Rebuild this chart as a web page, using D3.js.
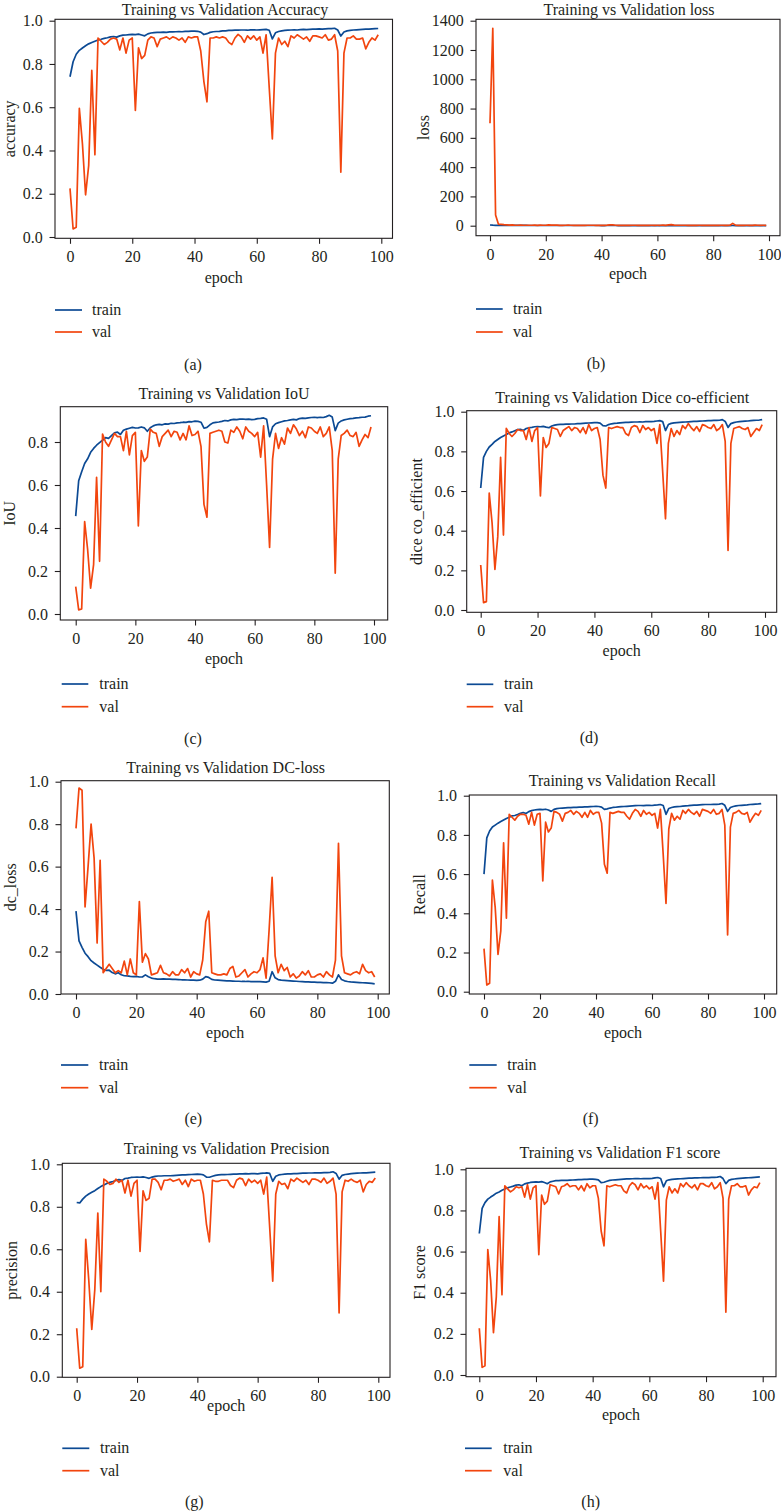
<!DOCTYPE html>
<html><head><meta charset="utf-8">
<script src="https://cdn.jsdelivr.net/npm/d3@7"></script>
<style>
body{margin:0;background:#fff}
svg{display:block}
text{font-family:"Liberation Serif","Times New Roman",serif;fill:#231f20}
</style>
</head><body>
<svg id="chart" width="781" height="1511"></svg>
<script>
// ---------------- data ----------------
const epochs = d3.range(100);
const xTicks = [0, 20, 40, 60, 80, 100];
const yTicksUnit = [0, 0.2, 0.4, 0.6, 0.8, 1.0];
const yTicksIoU = [0, 0.2, 0.4, 0.6, 0.8];
const yTicksLoss = [0, 200, 400, 600, 800, 1000, 1200, 1400];
const seriesNames = ["train", "val"];

const trainAccuracy = [0.741,0.810,0.845,0.863,0.874,0.884,0.893,0.899,0.905,0.911,
0.914,0.918,0.921,0.925,0.927,0.924,0.930,0.933,0.934,0.936,
0.937,0.936,0.938,0.934,0.930,0.939,0.943,0.945,0.946,0.946,
0.947,0.946,0.948,0.948,0.949,0.950,0.949,0.951,0.951,0.952,
0.952,0.951,0.947,0.936,0.940,0.946,0.949,0.950,0.951,0.953,
0.953,0.955,0.955,0.956,0.956,0.957,0.957,0.956,0.958,0.958,
0.957,0.958,0.959,0.960,0.956,0.916,0.944,0.950,0.953,0.955,
0.956,0.957,0.958,0.957,0.959,0.960,0.959,0.960,0.961,0.961,
0.962,0.961,0.962,0.963,0.963,0.965,0.957,0.929,0.948,0.953,
0.955,0.957,0.958,0.959,0.960,0.961,0.961,0.962,0.963,0.964];
const valAccuracy = [0.225,0.037,0.045,0.595,0.430,0.195,0.330,0.770,0.380,0.920,
0.905,0.890,0.900,0.915,0.920,0.915,0.865,0.920,0.850,0.910,
0.920,0.585,0.875,0.825,0.840,0.910,0.925,0.920,0.880,0.915,
0.920,0.925,0.915,0.925,0.920,0.910,0.920,0.900,0.925,0.920,
0.925,0.925,0.860,0.720,0.625,0.920,0.920,0.925,0.920,0.925,
0.920,0.900,0.890,0.920,0.937,0.925,0.900,0.930,0.915,0.930,
0.910,0.925,0.850,0.935,0.690,0.453,0.850,0.920,0.890,0.905,
0.880,0.930,0.920,0.935,0.925,0.915,0.925,0.905,0.930,0.930,
0.925,0.920,0.935,0.910,0.915,0.935,0.860,0.300,0.850,0.920,
0.920,0.930,0.915,0.915,0.920,0.870,0.900,0.920,0.910,0.935];

const trainLoss = [4.6,3.3,2.8,2.5,2.3,2.1,2.0,1.9,1.8,1.7,
1.65,1.62,1.58,1.55,1.52,1.50,1.48,1.46,1.44,1.42,
1.41,1.40,1.38,1.40,1.42,1.36,1.34,1.32,1.31,1.30,
1.29,1.28,1.27,1.26,1.25,1.24,1.23,1.22,1.21,1.20,
1.19,1.18,1.20,1.30,1.28,1.20,1.16,1.15,1.14,1.13,
1.12,1.11,1.10,1.10,1.09,1.08,1.08,1.07,1.06,1.06,
1.05,1.05,1.04,1.03,1.06,1.35,1.15,1.08,1.05,1.03,
1.02,1.01,1.00,1.00,0.99,0.98,0.98,0.97,0.97,0.96,
0.96,0.95,0.95,0.94,0.94,0.93,0.97,1.20,1.05,0.98,
0.96,0.95,0.94,0.93,0.93,0.92,0.92,0.91,0.91,0.90];
const valLoss = [699,1348,73,11,9,7,6,4,5,3,
3.2,3.5,3.1,2.9,3.0,2.9,3.6,2.8,3.7,3.0,
2.9,5.2,3.4,3.8,3.6,2.8,2.8,2.9,3.3,2.9,
2.8,2.7,3.0,2.8,2.8,3.1,2.9,3.2,2.6,3.0,
2.8,2.8,3.5,5.0,5.8,2.9,2.8,2.8,2.8,2.8,
2.8,3.1,3.2,2.7,2.6,2.8,3.1,2.6,2.9,2.8,
2.9,2.9,3.6,2.6,5.5,7.2,3.8,2.9,3.2,3.0,
3.2,2.6,2.8,2.6,2.7,2.9,2.8,3.0,2.6,2.6,
2.7,2.8,2.6,2.9,2.8,2.6,3.6,16,3.8,2.8,
2.8,2.7,2.9,2.9,2.8,3.3,3.0,2.8,2.9,2.6];

const trainIoU = [0.455,0.620,0.662,0.700,0.722,0.752,0.770,0.785,0.797,0.808,
0.820,0.817,0.830,0.843,0.846,0.835,0.855,0.860,0.864,0.868,
0.865,0.866,0.870,0.866,0.850,0.866,0.875,0.880,0.882,0.880,
0.884,0.883,0.887,0.886,0.889,0.890,0.892,0.891,0.895,0.894,
0.897,0.896,0.892,0.864,0.868,0.880,0.889,0.891,0.893,0.896,
0.900,0.898,0.903,0.905,0.904,0.906,0.907,0.905,0.906,0.904,
0.905,0.909,0.910,0.912,0.906,0.825,0.870,0.885,0.890,0.894,
0.898,0.900,0.903,0.905,0.903,0.909,0.911,0.910,0.912,0.914,
0.915,0.913,0.915,0.914,0.918,0.924,0.916,0.853,0.888,0.898,
0.903,0.906,0.909,0.910,0.912,0.913,0.915,0.916,0.920,0.922];
const valIoU = [0.127,0.019,0.023,0.430,0.300,0.120,0.230,0.636,0.245,0.837,
0.800,0.780,0.810,0.840,0.825,0.825,0.760,0.850,0.740,0.830,
0.845,0.410,0.760,0.710,0.730,0.860,0.845,0.840,0.780,0.825,
0.840,0.855,0.825,0.850,0.845,0.810,0.840,0.810,0.875,0.830,
0.835,0.850,0.780,0.510,0.450,0.840,0.845,0.850,0.855,0.850,
0.800,0.795,0.855,0.845,0.870,0.850,0.815,0.870,0.850,0.840,
0.825,0.845,0.730,0.875,0.600,0.310,0.720,0.840,0.770,0.820,
0.790,0.865,0.840,0.880,0.860,0.830,0.850,0.820,0.870,0.865,
0.850,0.840,0.870,0.825,0.840,0.870,0.760,0.190,0.720,0.830,
0.840,0.855,0.830,0.825,0.845,0.780,0.810,0.835,0.820,0.870];

const trainDice = [0.615,0.770,0.800,0.822,0.835,0.850,0.860,0.870,0.878,0.885,
0.893,0.898,0.904,0.910,0.911,0.905,0.915,0.919,0.921,0.924,
0.925,0.924,0.926,0.922,0.919,0.928,0.932,0.935,0.936,0.936,
0.937,0.937,0.938,0.938,0.940,0.940,0.941,0.942,0.943,0.944,
0.945,0.945,0.942,0.930,0.928,0.935,0.939,0.941,0.942,0.944,
0.945,0.946,0.946,0.947,0.948,0.948,0.949,0.948,0.950,0.950,
0.950,0.951,0.953,0.955,0.950,0.905,0.935,0.941,0.944,0.945,
0.946,0.947,0.948,0.949,0.950,0.951,0.951,0.952,0.953,0.954,
0.955,0.955,0.956,0.956,0.957,0.960,0.951,0.921,0.940,0.945,
0.948,0.950,0.951,0.952,0.953,0.955,0.956,0.957,0.958,0.960];
const valDice = [0.227,0.037,0.042,0.590,0.440,0.205,0.370,0.770,0.378,0.916,
0.890,0.875,0.890,0.910,0.905,0.905,0.860,0.920,0.850,0.905,
0.920,0.575,0.870,0.820,0.840,0.920,0.915,0.910,0.875,0.905,
0.915,0.925,0.905,0.920,0.915,0.895,0.920,0.890,0.935,0.905,
0.915,0.920,0.860,0.680,0.615,0.920,0.915,0.920,0.925,0.920,
0.920,0.890,0.880,0.920,0.930,0.925,0.895,0.930,0.910,0.920,
0.905,0.915,0.840,0.935,0.700,0.460,0.840,0.915,0.875,0.905,
0.885,0.930,0.915,0.940,0.920,0.905,0.925,0.900,0.935,0.930,
0.920,0.915,0.935,0.905,0.915,0.935,0.850,0.300,0.840,0.915,
0.920,0.925,0.915,0.910,0.920,0.875,0.895,0.915,0.905,0.935];

const trainDCLoss = [0.390,0.250,0.220,0.192,0.176,0.157,0.146,0.136,0.126,0.117,
0.111,0.112,0.101,0.095,0.100,0.091,0.086,0.085,0.083,0.082,
0.083,0.080,0.080,0.090,0.081,0.075,0.072,0.070,0.070,0.071,
0.070,0.070,0.069,0.069,0.068,0.067,0.067,0.066,0.065,0.065,
0.064,0.065,0.070,0.082,0.078,0.069,0.066,0.065,0.064,0.063,
0.062,0.062,0.061,0.060,0.060,0.059,0.059,0.060,0.058,0.058,
0.059,0.058,0.057,0.056,0.060,0.105,0.076,0.068,0.065,0.064,
0.063,0.062,0.061,0.060,0.059,0.058,0.057,0.057,0.056,0.056,
0.055,0.055,0.054,0.054,0.053,0.051,0.060,0.090,0.068,0.062,
0.059,0.057,0.056,0.055,0.054,0.053,0.052,0.051,0.050,0.048];
const valDCLoss = [0.780,0.970,0.960,0.410,0.600,0.800,0.640,0.240,0.630,0.100,
0.120,0.140,0.120,0.100,0.110,0.100,0.155,0.090,0.165,0.100,
0.090,0.435,0.150,0.190,0.165,0.090,0.095,0.100,0.135,0.100,
0.095,0.085,0.105,0.090,0.090,0.115,0.100,0.120,0.080,0.105,
0.095,0.090,0.160,0.340,0.390,0.100,0.095,0.090,0.090,0.095,
0.090,0.120,0.130,0.080,0.085,0.100,0.115,0.080,0.095,0.105,
0.100,0.115,0.170,0.075,0.300,0.550,0.180,0.100,0.140,0.110,
0.125,0.080,0.095,0.075,0.085,0.105,0.090,0.110,0.080,0.080,
0.090,0.095,0.080,0.105,0.090,0.080,0.160,0.710,0.180,0.100,
0.095,0.090,0.100,0.105,0.095,0.140,0.110,0.100,0.105,0.080];

const trainRecall = [0.600,0.785,0.820,0.840,0.850,0.860,0.868,0.876,0.884,0.890,
0.897,0.899,0.904,0.910,0.914,0.909,0.919,0.924,0.927,0.929,
0.930,0.929,0.931,0.927,0.920,0.930,0.934,0.936,0.937,0.938,
0.939,0.939,0.940,0.940,0.942,0.942,0.943,0.943,0.944,0.945,
0.946,0.945,0.942,0.930,0.933,0.937,0.940,0.941,0.943,0.944,
0.945,0.946,0.947,0.948,0.949,0.950,0.950,0.949,0.951,0.951,
0.950,0.952,0.953,0.955,0.950,0.905,0.935,0.940,0.943,0.944,
0.945,0.947,0.948,0.949,0.951,0.952,0.952,0.953,0.954,0.955,
0.955,0.955,0.956,0.956,0.957,0.960,0.951,0.920,0.940,0.945,
0.948,0.950,0.951,0.952,0.953,0.955,0.956,0.957,0.958,0.960];
const valRecall = [0.220,0.034,0.043,0.570,0.430,0.190,0.310,0.760,0.375,0.905,
0.890,0.875,0.895,0.905,0.905,0.900,0.855,0.915,0.850,0.905,
0.910,0.565,0.865,0.815,0.835,0.920,0.915,0.905,0.870,0.910,
0.915,0.925,0.905,0.920,0.910,0.890,0.915,0.890,0.925,0.905,
0.915,0.915,0.860,0.650,0.605,0.915,0.910,0.915,0.920,0.915,
0.915,0.895,0.880,0.910,0.930,0.920,0.895,0.925,0.905,0.915,
0.900,0.910,0.835,0.930,0.700,0.450,0.830,0.910,0.875,0.895,
0.880,0.925,0.910,0.930,0.915,0.905,0.920,0.895,0.930,0.925,
0.920,0.910,0.930,0.905,0.910,0.930,0.850,0.290,0.840,0.910,
0.915,0.925,0.910,0.905,0.915,0.865,0.890,0.910,0.900,0.925];

const trainPrecision = [0.820,0.818,0.836,0.850,0.860,0.868,0.876,0.886,0.895,0.903,
0.910,0.915,0.919,0.924,0.928,0.924,0.933,0.935,0.938,0.939,
0.940,0.939,0.941,0.938,0.934,0.940,0.943,0.945,0.945,0.946,
0.946,0.946,0.947,0.948,0.949,0.950,0.950,0.951,0.952,0.953,
0.954,0.953,0.950,0.940,0.939,0.944,0.948,0.950,0.951,0.951,
0.952,0.953,0.954,0.954,0.955,0.955,0.956,0.955,0.956,0.956,
0.955,0.957,0.958,0.960,0.957,0.920,0.944,0.950,0.952,0.954,
0.955,0.955,0.956,0.956,0.957,0.958,0.958,0.959,0.959,0.960,
0.960,0.960,0.961,0.961,0.962,0.965,0.957,0.930,0.948,0.952,
0.954,0.956,0.957,0.958,0.959,0.960,0.960,0.961,0.962,0.963];
const valPrecision = [0.228,0.040,0.047,0.647,0.455,0.223,0.410,0.770,0.400,0.930,
0.920,0.905,0.910,0.930,0.915,0.925,0.865,0.925,0.850,0.910,
0.925,0.590,0.875,0.830,0.840,0.930,0.930,0.915,0.880,0.925,
0.925,0.930,0.920,0.925,0.930,0.905,0.925,0.895,0.930,0.920,
0.925,0.925,0.860,0.720,0.635,0.925,0.920,0.920,0.925,0.925,
0.925,0.900,0.890,0.925,0.935,0.930,0.900,0.930,0.915,0.925,
0.910,0.925,0.860,0.940,0.700,0.450,0.860,0.920,0.905,0.910,
0.885,0.930,0.920,0.935,0.925,0.915,0.925,0.905,0.930,0.930,
0.925,0.915,0.935,0.910,0.920,0.935,0.860,0.300,0.870,0.925,
0.920,0.930,0.920,0.915,0.925,0.870,0.905,0.920,0.915,0.935];

const trainF1 = [0.688,0.810,0.838,0.855,0.865,0.874,0.884,0.890,0.898,0.904,
0.910,0.914,0.918,0.923,0.925,0.920,0.929,0.933,0.936,0.938,
0.939,0.938,0.940,0.936,0.930,0.939,0.942,0.945,0.945,0.946,
0.946,0.946,0.947,0.948,0.949,0.950,0.950,0.951,0.951,0.952,
0.952,0.951,0.949,0.935,0.937,0.942,0.946,0.948,0.949,0.950,
0.951,0.952,0.953,0.953,0.954,0.955,0.955,0.954,0.955,0.955,
0.955,0.956,0.958,0.960,0.955,0.915,0.944,0.949,0.951,0.952,
0.953,0.954,0.955,0.956,0.957,0.957,0.958,0.958,0.959,0.960,
0.960,0.960,0.961,0.961,0.962,0.965,0.955,0.930,0.946,0.951,
0.953,0.955,0.956,0.957,0.958,0.959,0.960,0.961,0.962,0.963];
const valF1 = [0.227,0.037,0.045,0.610,0.460,0.206,0.380,0.770,0.390,0.920,
0.905,0.890,0.900,0.915,0.910,0.915,0.865,0.925,0.855,0.910,
0.920,0.585,0.875,0.830,0.845,0.925,0.920,0.915,0.880,0.915,
0.920,0.930,0.915,0.920,0.920,0.900,0.920,0.895,0.930,0.910,
0.920,0.920,0.860,0.700,0.628,0.920,0.915,0.920,0.925,0.920,
0.920,0.895,0.885,0.920,0.935,0.925,0.900,0.930,0.910,0.920,
0.905,0.915,0.855,0.935,0.700,0.456,0.850,0.915,0.885,0.905,
0.885,0.930,0.915,0.935,0.920,0.910,0.925,0.900,0.930,0.930,
0.920,0.915,0.935,0.905,0.915,0.935,0.860,0.305,0.855,0.920,
0.920,0.930,0.915,0.915,0.920,0.875,0.900,0.915,0.910,0.935];

// ---------------- layout ----------------
const TRAIN_COLOR = "#0c4a94";
const VAL_COLOR = "#f2450e";
const INK = "#231f20";
const FONT = "'Liberation Serif','Times New Roman',serif";

const panels = [
 {title:"Training vs Validation Accuracy", ylabel:"accuracy", caption:"(a)", train:trainAccuracy, val:valAccuracy,
  frame:[55,19.3,392.5,238.3], xr:[70,381.3], yd:[0,1], yr:[237,20.7], yt:yTicksUnit, fmt:".1f",
  titleXY:[225,14.6], ylabX:14.6, xlabY:282.7, leg:[55,82,310,332,92], cap:[193,370]},
 {title:"Training vs Validation loss", ylabel:"loss", caption:"(b)", train:trainLoss, val:valLoss,
  frame:[476,19.3,780,235.7], xr:[490,769], yd:[0,1400], yr:[225.7,20.7], yt:yTicksLoss, fmt:"d",
  titleXY:[629,14.6], ylabX:429.3, xlabY:279.3, leg:[476,502.7,309,332,513], cap:[596,369]},
 {title:"Training vs Validation IoU", ylabel:"IoU", caption:"(c)", train:trainIoU, val:valIoU,
  frame:[60.3,406.7,387.7,620], xr:[75.7,374], yd:[0,0.8], yr:[614,442], yt:yTicksIoU, fmt:".1f",
  titleXY:[224,399], ylabX:15, xlabY:664, leg:[61.7,88.3,684,706.7,99.3], cap:[193,744]},
 {title:"Training vs Validation Dice co-efficient", ylabel:"dice co_efficient", caption:"(d)", train:trainDice, val:valDice,
  frame:[466.7,410.7,776.7,612.3], xr:[480.7,765], yd:[0,1], yr:[610,411.7], yt:yTicksUnit, fmt:".1f",
  titleXY:[622.3,402.7], ylabX:421.7, xlabY:656, leg:[466.7,493.3,684.3,706.7,504], cap:[589,743]},
 {title:"Training vs Validation DC-loss", ylabel:"dc_loss", caption:"(e)", train:trainDCLoss, val:valDCLoss,
  frame:[61,780.7,389.3,994], xr:[76,377.7], yd:[0,1], yr:[994,781.7], yt:yTicksUnit, fmt:".1f",
  titleXY:[225.7,772.7], ylabX:16, xlabY:1038, leg:[61,88.3,1065,1087.7,99], cap:[193.3,1124]},
 {title:"Training vs Validation Recall", ylabel:"Recall", caption:"(f)", train:trainRecall, val:valRecall,
  frame:[469.3,795,776.7,994], xr:[484,764], yd:[0,1], yr:[991.7,795.7], yt:yTicksUnit, fmt:".1f",
  titleXY:[622.3,785.7], ylabX:425, xlabY:1038, leg:[469.3,496.7,1065,1087.7,507.3], cap:[590.7,1124]},
 {title:"Training vs Validation Precision", ylabel:"precision", caption:"(g)", train:trainPrecision, val:valPrecision,
  frame:[62.3,1163.3,390,1377.3], xr:[76.7,378.3], yd:[0,1], yr:[1376.7,1164.3], yt:yTicksUnit, fmt:".1f",
  titleXY:[226.7,1154], ylabX:17, xlabY:1411, leg:[62.3,89.3,1448.3,1470.7,100], cap:[194.3,1506.7]},
 {title:"Training vs Validation F1 score", ylabel:"F1 score", caption:"(h)", train:trainF1, val:valF1,
  frame:[466,1168.3,776,1376.7], xr:[479.3,762.7], yd:[0,1], yr:[1375,1169.3], yt:yTicksUnit, fmt:".1f",
  titleXY:[620,1158.3], ylabX:425, xlabY:1420, leg:[465,491.7,1448.3,1470.7,503.3], cap:[590.7,1506.7]}
];

const svg = d3.select("#chart");

panels.forEach(p => {
  const [L, T, R, B] = p.frame;
  const x = d3.scaleLinear().domain([0, 100]).range(p.xr);
  const y = d3.scaleLinear().domain(p.yd).range(p.yr);
  const g = svg.append("g");

  const line = d3.line().x((d, i) => x(epochs[i])).y(d => y(d));
  g.append("path").datum(p.train).attr("d", line)
    .attr("fill", "none").attr("stroke", TRAIN_COLOR).attr("stroke-width", 1.7).attr("stroke-linejoin", "round");
  g.append("path").datum(p.val).attr("d", line)
    .attr("fill", "none").attr("stroke", VAL_COLOR).attr("stroke-width", 1.7).attr("stroke-linejoin", "round");

  g.append("rect").attr("x", L).attr("y", T).attr("width", R - L).attr("height", B - T)
    .attr("fill", "none").attr("stroke", INK).attr("stroke-width", 1.1);

  const xa = g.append("g").attr("transform", `translate(0,${B})`)
    .call(d3.axisBottom(x).tickValues(xTicks).tickSize(5.5).tickPadding(7.2).tickFormat(d3.format("d")));
  xa.select(".domain").remove();
  xa.attr("font-size", 16).attr("font-family", FONT);
  xa.selectAll("line").attr("stroke", INK).attr("stroke-width", 1.1);

  const ya = g.append("g").attr("transform", `translate(${L},0)`)
    .call(d3.axisLeft(y).tickValues(p.yt).tickSize(5.5).tickPadding(6.8).tickFormat(d3.format(p.fmt)));
  ya.select(".domain").remove();
  ya.attr("font-size", 16).attr("font-family", FONT);
  ya.selectAll("line").attr("stroke", INK).attr("stroke-width", 1.1);

  g.append("text").attr("x", p.titleXY[0]).attr("y", p.titleXY[1])
    .attr("text-anchor", "middle").attr("font-size", 16).text(p.title);

  g.append("text").attr("transform", `translate(${p.ylabX},${(T + B) / 2}) rotate(-90)`)
    .attr("text-anchor", "middle").attr("font-size", 16).text(p.ylabel);

  g.append("text").attr("x", (L + R) / 2).attr("y", p.xlabY)
    .attr("text-anchor", "middle").attr("font-size", 16).text("epoch");

  const [lx0, lx1, ly0, ly1, tx] = p.leg;
  const legendColors = [TRAIN_COLOR, VAL_COLOR];
  seriesNames.forEach((name, i) => {
    const ly = i === 0 ? ly0 : ly1;
    g.append("line").attr("x1", lx0).attr("x2", lx1).attr("y1", ly).attr("y2", ly)
      .attr("stroke", legendColors[i]).attr("stroke-width", 1.7);
    g.append("text").attr("x", tx).attr("y", ly + 4.8).attr("font-size", 16).text(name);
  });

  g.append("text").attr("x", p.cap[0]).attr("y", p.cap[1])
    .attr("text-anchor", "middle").attr("font-size", 16).text(p.caption);
});
</script>
</body></html>
